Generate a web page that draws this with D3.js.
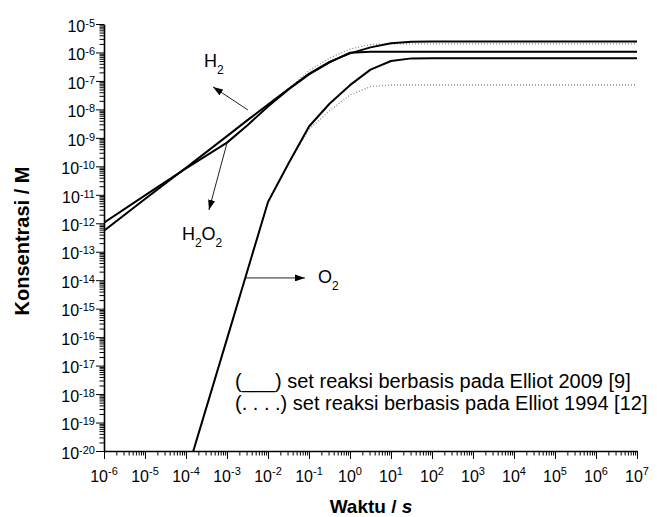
<!DOCTYPE html>
<html><head><meta charset="utf-8">
<script src="https://cdn.jsdelivr.net/npm/d3@7"></script>
<style>
body{margin:0;background:#fff}
svg{display:block}
text{font-family:"Liberation Sans",Arial,Helvetica,sans-serif;fill:#000}
</style>
</head><body>
<svg id="chart" width="657" height="517"></svg>
<script>
// ---- data ----
const times = [1e-6, 1e-5, 1e-4, 1e-3, 3.16e-3, 1e-2, 3.16e-2, 0.1, 0.316, 1, 3.16, 10, 31.6, 100, 1e3, 1e4, 1e5, 1e6, 1e7];
// set reaksi Elliot 2009 (solid)
const h2_2009   = [5.5e-13, 7.1e-12, 8.9e-11, 1.15e-9, 4.2e-9, 1.48e-8, 5.2e-8, 1.78e-7, 4.7e-7, 9.3e-7, 1.51e-6, 2.09e-6, 2.4e-6, 2.45e-6, 2.45e-6, 2.45e-6, 2.45e-6, 2.45e-6, 2.45e-6];
const h2o2_2009 = [1.05e-12, 9.5e-12, 8.5e-11, 6.8e-10, 2.8e-9, 1.26e-8, 5.0e-8, 1.7e-7, 4.5e-7, 9.8e-7, 1.05e-6, 1.05e-6, 1.05e-6, 1.05e-6, 1.05e-6, 1.05e-6, 1.05e-6, 1.05e-6, 1.05e-6];
const o2_2009   = [null, null, 1.4e-21, 8.7e-17, 2.2e-14, 5.6e-12, 1.26e-10, 2.5e-9, 1.58e-8, 7.1e-8, 2.5e-7, 5.0e-7, 6.2e-7, 6.3e-7, 6.3e-7, 6.3e-7, 6.3e-7, 6.3e-7, 6.3e-7];
// set reaksi Elliot 1994 (dotted)
const h2_1994   = [5.5e-13, 7.1e-12, 8.9e-11, 1.15e-9, 4.2e-9, 1.48e-8, 5.2e-8, 2.3e-7, 6.3e-7, 1.32e-6, 1.9e-6, 2.0e-6, 2.0e-6, 2.0e-6, 2.0e-6, 2.0e-6, 2.0e-6, 2.0e-6, 2.0e-6];
const o2_1994   = [null, null, 1.4e-21, 8.7e-17, 2.2e-14, 5.6e-12, 1.26e-10, 2.0e-9, 8.9e-9, 3.2e-8, 6.3e-8, 7.2e-8, 7.2e-8, 7.2e-8, 7.2e-8, 7.2e-8, 7.2e-8, 7.2e-8, 7.2e-8];

const xTickExp = [-6,-5,-4,-3,-2,-1,0,1,2,3,4,5,6,7];
const yTickExp = [-20,-19,-18,-17,-16,-15,-14,-13,-12,-11,-10,-9,-8,-7,-6,-5];

const legendLabels = ["(___) set reaksi berbasis pada Elliot 2009 [9]", "(. . . .) set reaksi berbasis pada Elliot 1994 [12]"];

// ---- layout ----
const svg = d3.select("#chart");
const L = 104, R = 637, T = 24, B = 451;
const x = d3.scaleLog().domain([1e-6, 1e7]).range([L, R]);
const y = d3.scaleLog().domain([1e-20, 1e-5]).range([B, T]);

const defs = svg.append("defs");
defs.append("clipPath").attr("id", "plotclip").append("rect")
  .attr("x", L).attr("y", T - 2).attr("width", R - L + 2).attr("height", B - T + 2);
defs.append("marker").attr("id", "ah").attr("viewBox", "0 0 10 7")
  .attr("refX", 10).attr("refY", 3.5).attr("markerWidth", 10).attr("markerHeight", 7)
  .attr("markerUnits", "userSpaceOnUse").attr("orient", "auto")
  .append("path").attr("d", "M0,0L10,3.5L0,7Z").attr("fill", "#000");

// ---- axes ----
function minorTicks(e0, e1) {
  const out = [];
  for (let e = e0; e < e1; e++) for (let k = 2; k <= 9; k++) out.push(k * Math.pow(10, e));
  return out;
}
const xMajor = xTickExp.map(e => Math.pow(10, e));
const yMajor = yTickExp.map(e => Math.pow(10, e));

function styleAxis(g, keepDomain) {
  g.selectAll(".tick line").attr("stroke", "#000").attr("stroke-width", 1);
  if (keepDomain) g.select(".domain").attr("stroke", "#000").attr("stroke-width", 1.6);
  else g.select(".domain").remove();
  g.selectAll(".tick text").remove();
}

svg.append("g").attr("transform", `translate(0,${B})`)
  .call(d3.axisBottom(x).tickValues(minorTicks(-6, 7)).tickSize(4.5).tickFormat(""))
  .call(g => styleAxis(g, false));
svg.append("g").attr("transform", `translate(0,${B})`)
  .call(d3.axisBottom(x).tickValues(xMajor).tickSize(8).tickSizeOuter(0).tickFormat(""))
  .call(g => styleAxis(g, true));
svg.append("g").attr("transform", `translate(${L},0)`)
  .call(d3.axisLeft(y).tickValues(minorTicks(-20, -5)).tickSize(4.5).tickFormat(""))
  .call(g => styleAxis(g, false));
svg.append("g").attr("transform", `translate(${L},0)`)
  .call(d3.axisLeft(y).tickValues(yMajor).tickSize(8).tickSizeOuter(0).tickFormat(""))
  .call(g => styleAxis(g, true));

// tick labels
svg.append("g").selectAll("text").data(yTickExp).join("text")
  .attr("x", L - 9).attr("y", d => y(Math.pow(10, d)) + 7.7)
  .attr("text-anchor", "end").attr("font-size", 16)
  .each(function (d) {
    const t = d3.select(this);
    t.append("tspan").text("10");
    t.append("tspan").attr("font-size", 11).attr("dy", -5).text(d);
  });
svg.append("g").selectAll("text").data(xTickExp).join("text")
  .attr("x", d => x(Math.pow(10, d))).attr("y", B + 31)
  .attr("text-anchor", "middle").attr("font-size", 16)
  .each(function (d) {
    const t = d3.select(this);
    t.append("tspan").text("10");
    t.append("tspan").attr("font-size", 11).attr("dy", -7.5).text(d);
  });

// axis titles
svg.append("text").attr("x", 371).attr("y", 513).attr("text-anchor", "middle")
  .attr("font-size", 19).attr("font-weight", "bold")
  .call(t => { t.append("tspan").text("Waktu / "); t.append("tspan").attr("font-style", "italic").text("s"); });
svg.append("text").attr("transform", "translate(28.5,241) rotate(-90)").attr("text-anchor", "middle")
  .attr("font-size", 20).attr("font-weight", "bold").text("Konsentrasi / M");

// ---- lines ----
const line = d3.line()
  .defined(d => d[1] != null)
  .x(d => x(d[0])).y(d => y(d[1]));
const zipT = vals => times.map((t, i) => [t, vals[i]]);
const plot = svg.append("g").attr("clip-path", "url(#plotclip)");

[h2_1994, o2_1994].forEach(s => {
  plot.append("path").attr("d", line(zipT(s))).attr("fill", "none")
    .attr("stroke", "#8a8a8a").attr("stroke-width", 1.3).attr("stroke-dasharray", "1,2");
});
[h2_2009, h2o2_2009, o2_2009].forEach(s => {
  plot.append("path").attr("d", line(zipT(s))).attr("fill", "none")
    .attr("stroke", "#000").attr("stroke-width", 2).attr("stroke-linejoin", "round");
});

// ---- annotations (anchored in data space: [log10 t, log10 c]) ----
const P = (lt, lc) => [x(Math.pow(10, lt)), y(Math.pow(10, lc))];
const arrows = [
  [[-2.49, -8.02], [-3.34, -7.21]],
  [[-3.0, -9.18], [-3.44, -11.53]],
  [[-2.56, -13.92], [-1.10, -13.92]]
];
arrows.forEach(([a, b]) => {
  const p0 = P(a[0], a[1]), p1 = P(b[0], b[1]);
  svg.append("line").attr("x1", p0[0]).attr("y1", p0[1]).attr("x2", p1[0]).attr("y2", p1[1])
    .attr("stroke", "#222").attr("stroke-width", 1).attr("marker-end", "url(#ah)");
});
const species = [
  {parts: [["H", 0], ["2", 1]], at: [-3.56, -6.51]},
  {parts: [["H", 0], ["2", 1], ["O", 0], ["2", 1]], at: [-4.10, -12.59]},
  {parts: [["O", 0], ["2", 1]], at: [-0.78, -14.10]}
];
species.forEach(s => {
  const p = P(s.at[0], s.at[1]);
  const t = svg.append("text").attr("x", p[0]).attr("y", p[1]).attr("font-size", 18);
  let sub = false;
  s.parts.forEach(([txt, isSub]) => {
    const sp = t.append("tspan").text(txt);
    if (isSub && !sub) { sp.attr("font-size", 12).attr("dy", 7); sub = true; }
    else if (!isSub && sub) { sp.attr("dy", -7); sub = false; }
    else if (isSub) sp.attr("font-size", 12);
  });
});

// ---- legend ----
svg.append("g").selectAll("text").data(legendLabels).join("text")
  .attr("x", 235).attr("y", (d, i) => 388 + i * 22).attr("font-size", 20).text(d => d);
</script>
</body></html>
